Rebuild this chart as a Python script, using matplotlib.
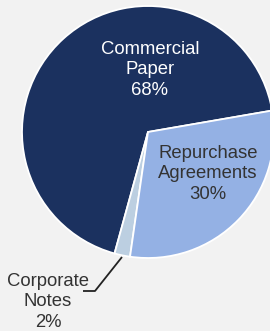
import matplotlib
matplotlib.use("Agg")
import matplotlib.pyplot as plt

categories = ["Commercial\nPaper", "Corporate\nNotes", "Repurchase\nAgreements"]
values = [68, 2, 30]
colors = ["#1B315F", "#BCCFE1", "#94B1E4"]

W, H, DPI = 270, 331, 100
bg = "#F2F2F2"
fig = plt.figure(figsize=(W / DPI, H / DPI), dpi=DPI, facecolor=bg)
ax = fig.add_axes([0, 0, 1, 1])
ax.set_facecolor(bg)

cx, cy, r = 148, H - 132, 126
wedges, _ = ax.pie(values, colors=colors, startangle=9.8, counterclock=True,
                   center=(cx, cy), radius=r,
                   wedgeprops=dict(edgecolor="white", linewidth=1.3))
ax.set_xlim(0, W)
ax.set_ylim(0, H)
ax.set_aspect("equal")
ax.axis("off")

font = dict(family=["Liberation Sans", "DejaVu Sans"], fontsize=13.3,
            ha="center", va="center", linespacing=1.27)
ax.text(150, H - 70, f"{categories[0]}\n{values[0]}%", color="white", **font)
ax.text(208, H - 174, f"{categories[2]}\n{values[2]}%", color="#333333", **font)
ax.text(48, H - 302, f"{categories[1]}\n{values[1]}%", color="#333333", **font)

# leader line for the small slice
ax.plot([83, 95, 122], [H - 291, H - 291, H - 257], color="#222222", lw=1.3,
        solid_capstyle="butt")

fig.savefig("out.png", dpi=DPI, facecolor=bg)
